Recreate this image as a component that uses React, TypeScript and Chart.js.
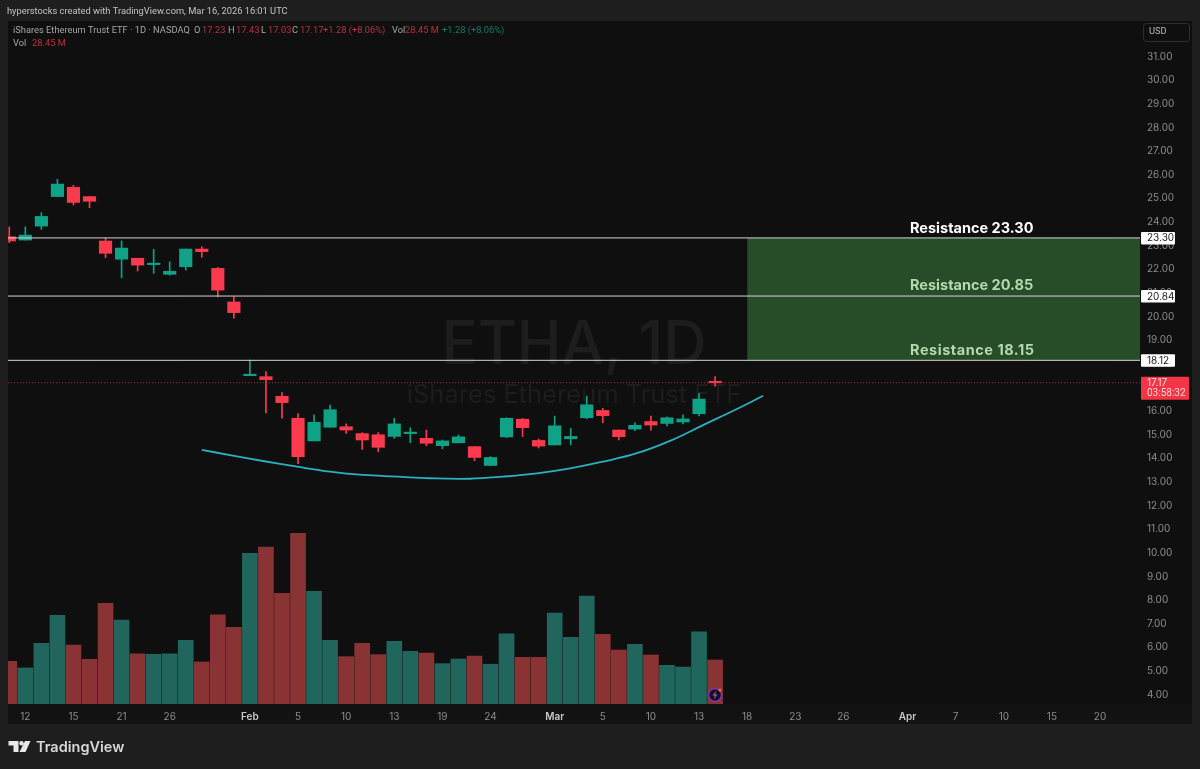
import React, { useEffect, useRef } from "react";
import { Chart, registerables } from "chart.js";

Chart.register(...registerables);

const opens = [23.35,23.21,23.80,25.05,25.44,25.05,23.17,22.40,22.44,22.17,21.76,22.08,22.83,22.01,20.59,17.47,17.43,16.60,15.67,14.71,15.29,15.31,15.02,14.97,14.90,15.02,14.82,14.51,14.63,14.47,13.67,14.88,15.63,14.73,14.54,14.80,15.69,16.00,15.17,15.21,15.53,15.45,15.51,15.86,17.23];
const closes = [23.17,23.42,24.21,25.58,24.80,24.85,22.65,22.87,22.15,22.22,21.89,22.83,22.72,21.09,20.14,17.53,17.30,16.33,14.04,15.50,16.03,15.17,14.75,14.44,15.43,15.05,14.61,14.71,14.88,14.01,14.01,15.67,15.27,14.49,15.35,14.90,16.24,15.78,14.89,15.37,15.38,15.69,15.64,16.48,17.17];
const highs = [23.77,23.77,24.37,25.78,25.53,25.05,23.30,23.17,22.44,22.82,22.29,22.83,22.93,22.05,20.81,18.13,17.64,16.76,15.87,15.81,16.23,15.43,15.06,15.06,15.67,15.27,15.17,14.75,14.96,14.47,14.05,15.69,15.66,14.79,15.76,15.24,16.61,16.09,15.17,15.48,15.76,15.73,15.81,16.72,17.43];
const lows = [23.10,23.21,23.66,25.05,24.69,24.58,22.46,21.61,21.90,21.80,21.72,21.94,22.48,20.81,19.90,17.47,15.90,15.67,13.75,14.71,15.29,15.03,14.35,14.25,14.82,14.63,14.51,14.38,14.63,13.87,13.67,14.85,14.89,14.41,14.54,14.54,15.65,15.48,14.75,15.14,15.17,15.34,15.43,15.77,17.03];
const volumes = [27.6,23.3,39.2,57.3,38.1,28.9,65.1,54.3,32.5,32.1,32.5,41.2,27.2,57.7,49.6,97.4,101.5,71.6,110.4,72.9,41.2,30.6,39.2,31.9,40.5,34.1,33.0,26.1,29.1,31.0,25.7,45.3,30.2,30.2,58.8,43.1,69.8,45.1,34.9,38.6,31.7,25.0,23.9,46.6,28.45];

const tickDays = [1,4,7,10,15,18,21,24,27,30,34,37,40,43,46,49,52,56,59,62,65,68];
const tickLabels = ["12","15","21","26","Feb","5","10","13","19","24","Mar","5","10","13","18","23","26","Apr","7","10","15","20"];
const monthLabels = ["Feb","Mar","Apr"];
const priceTicks = [4,5,6,7,8,9,10,11,12,13,14,15,16,17,18,19,20,21,22,23,24,25,26,27,28,29,30,31];

const curveDays = [12,13.76,15.82,17.94,19.99,22.05,24.17,26.2,28.72,30.78,32.9,34.96,37,39.13,41.19,43.25,45.36,46.99];
const curvePrices = [14.33,14.11,13.86,13.62,13.41,13.27,13.20,13.13,13.11,13.20,13.34,13.55,13.83,14.19,14.71,15.38,16.06,16.62];

const resistanceLevels = [23.30,20.84,18.12];
const resistanceNames = ["Resistance 23.30","Resistance 20.85","Resistance 18.15"];
const zoneStartDay = 46;
const lastPrice = 17.17;
const countdown = "03:58:32";

const X_MIN = -0.081, X_MAX = 70.49, Y_MIN = 3.577, Y_MAX = 32.48, VOL_MAX = 441.6;
const UP = "#10a287", DOWN = "#fb3a4e", UP_VOL = "#20665c", DOWN_VOL = "#8a3335";
const FONT = "Inter, 'Noto Sans', sans-serif";
const HEAD = "Roboto, 'Noto Sans', sans-serif";

const isUp = (i: number) => closes[i] >= opens[i];
const days = opens.map((_, i) => i);

function txt(ctx: CanvasRenderingContext2D, s: string, x: number, y: number, color: string, font: string, align: CanvasTextAlign = "left") {
  ctx.fillStyle = color;
  ctx.font = font;
  ctx.textAlign = align;
  ctx.textBaseline = "middle";
  ctx.fillText(s, x, y);
}

const decor = {
  id: "decor",
  beforeDraw(chart: any) {
    const c = chart.ctx as CanvasRenderingContext2D;
    c.save();
    c.fillStyle = "#1e1e1e";
    c.fillRect(0, 0, 1200, 769);
    c.fillStyle = "#0f0f0f";
    c.fillRect(8, 21, 1184, 683);
    c.fillStyle = "#121212";
    c.fillRect(8, 704, 1184, 20);
    c.restore();
  },
  beforeDatasetsDraw(chart: any) {
    const c = chart.ctx as CanvasRenderingContext2D;
    c.save();
    txt(c, "ETHA, 1D", 574, 346, "#1d1d1d", `500 60px ${FONT}`, "center");
    txt(c, "iShares Ethereum Trust ETF", 574, 395, "#1d1d1d", `400 25.5px ${FONT}`, "center");
    c.restore();
  },
  afterDraw(chart: any) {
    const c = chart.ctx as CanvasRenderingContext2D;
    const y = chart.scales.y;
    const f10 = `400 10px ${FONT}`;
    const h10 = `400 9.3px ${HEAD}`;
    c.save();
    txt(c, "hyperstocks created with TradingView.com, Mar 16, 2026 16:01 UTC", 7, 12, "#c4c4c4", h10);
    const grey = "#a6a6a6", red = "#b9303f", green = "#127a68";
    txt(c, "iShares Ethereum Trust ETF · 1D · NASDAQ", 13, 31, grey, h10);
    ([["O",194,grey],["17.23",202,red],["H",228,grey],["17.43",236,red],["L",261,grey],["17.03",268,red],["C",292,grey],["17.17",300,red],["+1.28 (+8.06%)",323,red],["Vol",392,grey],["28.45 M",405,red],["+1.28 (+8.06%)",442,green]] as [string,number,string][])
      .forEach(([s,x,col]) => txt(c, s, x, 31, col, h10));
    txt(c, "Vol", 13, 44, grey, h10);
    txt(c, "28.45 M", 32, 44, red, h10);

    // currency box
    c.strokeStyle = "#2e2e2e";
    c.lineWidth = 1;
    c.beginPath();
    c.roundRect(1143.5, 23.5, 46, 18, 3);
    c.stroke();
    txt(c, "USD", 1149, 32, "#b8b8b8", h10);

    // level texts
    const bold = `700 14.5px ${FONT}`;
    const cols = ["#ffffff", "#b6d8ae", "#b6d8ae"];
    const textY = [229, 286, 351];
    const spacing = ["0px", "0px", "0.53px"];
    resistanceNames.forEach((s, i) => {
      (c as any).letterSpacing = spacing[i];
      txt(c, s, 910, textY[i], cols[i], bold);
    });
    (c as any).letterSpacing = "0px";

    // axis tags
    resistanceLevels.forEach((v) => {
      const py = y.getPixelForValue(v);
      c.fillStyle = "#ffffff";
      c.beginPath();
      c.roundRect(1141, py - 6, 34, 12.5, 1);
      c.fill();
      txt(c, v.toFixed(2), 1147, py + 0.5, "#1a1a1a", f10);
    });
    const lp = y.getPixelForValue(lastPrice);
    c.fillStyle = "#f23645";
    c.beginPath();
    c.roundRect(1141, lp - 6, 48, 23, 1);
    c.fill();
    txt(c, lastPrice.toFixed(2), 1147, lp, "#f5d5d8", f10);
    txt(c, countdown, 1147, lp + 11, "#f5d5d8", `400 10px ${HEAD}`);

    // lightning badge
    c.fillStyle = "#17101f";
    c.strokeStyle = "#7a38a8";
    c.lineWidth = 1.5;
    c.beginPath();
    c.arc(715, 695, 6.5, 0, Math.PI * 2);
    c.fill();
    c.stroke();
    c.fillStyle = "#a855d8";
    c.beginPath();
    c.moveTo(716.5, 690.5); c.lineTo(712.5, 695.5); c.lineTo(715, 695.5);
    c.lineTo(713.5, 699.5); c.lineTo(717.5, 694.5); c.lineTo(715, 694.5);
    c.closePath();
    c.fill();
    c.fillStyle = "#f0663c";
    c.beginPath();
    c.arc(720, 690, 1.6, 0, Math.PI * 2);
    c.fill();

    // logo
    c.fillStyle = "#e8e8e8";
    c.beginPath();
    c.moveTo(8.5, 741); c.lineTo(18.5, 741); c.lineTo(18.5, 752); c.lineTo(13.5, 752); c.lineTo(13.5, 745.5); c.lineTo(8.5, 745.5);
    c.closePath();
    c.fill();
    c.beginPath();
    c.arc(21.5, 743.2, 2.2, 0, Math.PI * 2);
    c.fill();
    c.beginPath();
    c.moveTo(25, 741); c.lineTo(30.5, 741); c.lineTo(25.5, 752); c.lineTo(19.5, 752);
    c.closePath();
    c.fill();
    txt(c, "TradingView", 36, 747.5, "#d8d8d8", `600 14.5px ${FONT}`);
    c.restore();
  },
};

export default function App() {
  const ref = useRef<HTMLCanvasElement | null>(null);
  useEffect(() => {
    document.body.style.margin = "0";
    document.body.style.background = "#1e1e1e";
    const hLine = (v: number, from: number, color: string, extra: any = {}) => ({
      type: "line",
      data: [{ x: from, y: v }, { x: X_MAX, y: v }],
      borderColor: color,
      borderWidth: 1,
      pointRadius: 0,
      yAxisID: "y",
      ...extra,
    });
    const chart = new Chart(ref.current as HTMLCanvasElement, {
      type: "bar",
      data: {
        datasets: [
          {
            label: "Volume",
            yAxisID: "yVol",
            data: volumes.map((v, i) => ({ x: days[i], y: v })),
            backgroundColor: days.map((i) => (isUp(i) ? UP_VOL : DOWN_VOL)),
            barThickness: 15,
            order: 10,
          },
          {
            ...hLine(resistanceLevels[0], zoneStartDay, "rgba(0,0,0,0)", {
              fill: { target: { value: resistanceLevels[2] } },
              backgroundColor: "#264d27",
              borderWidth: 0,
            }),
            order: 9,
          },
          {
            label: "Wicks",
            yAxisID: "y",
            data: days.map((i) => ({ x: i, y: [lows[i], highs[i]] })),
            backgroundColor: days.map((i) => (isUp(i) ? UP : DOWN)),
            barThickness: 1,
            order: 8,
          },
          {
            label: "Candles",
            yAxisID: "y",
            data: days.map((i) => ({ x: i, y: [opens[i], closes[i]] })),
            backgroundColor: days.map((i) => (isUp(i) ? UP : DOWN)),
            barThickness: 12.5,
            minBarLength: 1.5,
            order: 7,
          },
          ...resistanceLevels.map((v, i) => ({ ...hLine(v, X_MIN, "#d4d4d4"), order: 6 - i * 0.1 })),
          { ...hLine(lastPrice, X_MIN, "#a83240", { borderDash: [1, 2] }), order: 5 },
          {
            type: "line",
            yAxisID: "y",
            data: curveDays.map((d, i) => ({ x: d, y: curvePrices[i] })),
            borderColor: "#2bb0c0",
            borderWidth: 1.8,
            pointRadius: 0,
            tension: 0.4,
            order: 4,
          },
        ] as any,
      },
      options: {
        responsive: false,
        animation: false,
        devicePixelRatio: 1,
        layout: { padding: { left: 8, top: 21, right: 8, bottom: 45 } },
        datasets: { bar: { grouped: false } as any },
        plugins: { legend: { display: false }, tooltip: { enabled: false } },
        scales: {
          x: {
            type: "linear",
            offset: false,
            min: X_MIN,
            max: X_MAX,
            grid: { display: false, drawTicks: false },
            border: { display: false },
            afterBuildTicks: (s: any) => { s.ticks = tickDays.map((v) => ({ value: v })); },
            afterFit: (s: any) => { s.height = 20; },
            ticks: {
              autoSkip: false,
              maxRotation: 0,
              padding: 7,
              color: (c: any) => (monthLabels.includes(tickLabels[c.index]) ? "#c8c8c8" : "#8c8c8c"),
              font: (c: any) => ({ family: FONT, size: 10, weight: monthLabels.includes(tickLabels[c.index]) ? 600 : 400 }),
              callback: (v: any) => tickLabels[tickDays.indexOf(v)],
            },
          },
          y: {
            position: "right",
            min: Y_MIN,
            max: Y_MAX,
            grid: { display: false, drawTicks: false },
            border: { display: false },
            afterBuildTicks: (s: any) => { s.ticks = priceTicks.map((v) => ({ value: v - 0.03 })); },
            afterFit: (s: any) => { s.width = 52; },
            ticks: {
              autoSkip: false,
              padding: 7,
              color: "#8c8c8c",
              font: { family: FONT, size: 10 },
              callback: (v: any) => Math.round(Number(v)).toFixed(2),
            },
          },
          yVol: { display: false, min: 0, max: VOL_MAX },
        },
      } as any,
      plugins: [decor],
    });
    return () => chart.destroy();
  }, []);
  return <canvas ref={ref} width={1200} height={769} style={{ display: "block", width: 1200, height: 769 }} />;
}
